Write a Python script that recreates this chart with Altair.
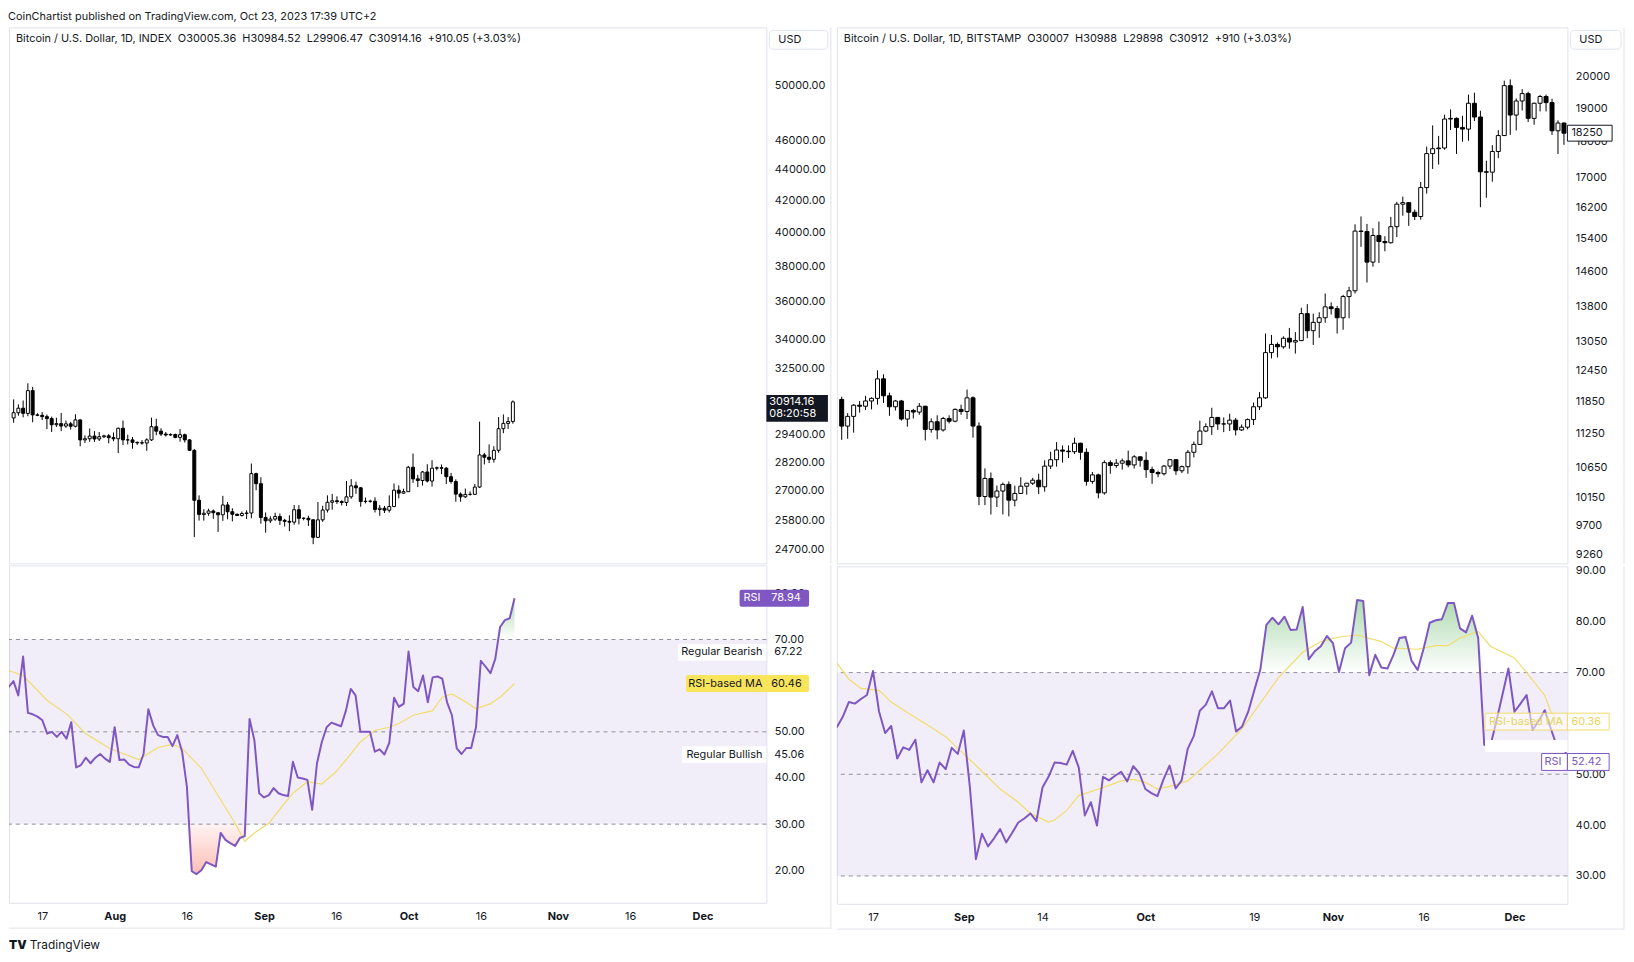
import altair as alt
import pandas as pd
import numpy as np

FONT = "Inter"
INK = "#131722"
GRID = "#e0e3eb"
PURPLE = "#7E57C2"
MA_YELLOW = "#F2DC6A"
TAG_YELLOW = "#F9E55B"
SP = "\u00a0\u00a0"

PUBLISHED = "CoinChartist published on TradingView.com, Oct 23, 2023 17:39 UTC+2"
L_HEADER = SP.join(["Bitcoin / U.S. Dollar, 1D, INDEX", "O30005.36", "H30984.52", "L29906.47", "C30914.16", "+910.05 (+3.03%)"])
R_HEADER = SP.join(["Bitcoin / U.S. Dollar, 1D, BITSTAMP", "O30007", "H30988", "L29898", "C30912", "+910 (+3.03%)"])

# ---------------- Left: BTC INDEX, 2023-07-10 .. 2023-10-23 ----------------
L_FIRST_DAY = "2023-07-10"
l_open = [30170, 30410, 30620, 30380, 31450, 30310, 30290, 30230, 30140, 29860, 29910, 29800, 29900, 29790, 30080, 29180, 29230, 29350, 29220, 29320, 29360, 29280,
          29230, 29700, 29180, 29180, 29070, 29050, 29040, 29180, 29770, 29570, 29440, 29400, 29420, 29290, 29410, 29180, 28720, 26620, 26050, 26100, 26190, 26120, 26040, 26430, 26160, 26060, 26010, 26090, 26110, 27720, 27300,
          25930, 25800, 25870, 25970, 25820, 25780, 25750, 26240, 25900, 25900, 25840, 25160, 25840, 26230, 26540, 26600, 26570, 26530, 26760, 27210, 27130, 26570, 26580, 26580, 26250, 26300, 26220, 26370, 27030, 26910,
          26970, 27990, 27500, 27430, 27790, 27410, 27950, 27970, 27950, 27590, 27390, 26870, 26760, 26860, 26860, 27160, 28520, 28420, 28330, 28720, 29680, 29920, 30005.36]
l_high = [31030, 30800, 30980, 31800, 31630, 30390, 30440, 30330, 30230, 30180, 30400, 30050, 29990, 30340, 30100, 29380, 29690, 29570, 29530, 29410, 29440, 29510,
          29730, 30050, 29410, 29310, 29110, 29170, 29250, 30180, 30130, 29700, 29530, 29470, 29460, 29660, 29460, 29210, 28780, 26820, 26260, 26280, 26250, 26130, 26800, 26550, 26300, 26090, 26170, 26220, 28150, 27760, 27570,
          26130, 25980, 26120, 26090, 25880, 26020, 26430, 26420, 25940, 26000, 25870, 26550, 26400, 26820, 26880, 26780, 26620, 27410, 27490, 27380, 27160, 26730, 26640, 26740, 26430, 26390, 26820, 27310, 27230, 27090,
          28050, 28580, 27670, 27830, 28120, 28290, 28020, 28110, 28000, 27750, 27480, 26940, 27100, 26980, 27290, 30000, 28610, 28980, 28900, 30210, 30330, 30210, 30984.52]
l_low = [29950, 30270, 30200, 30250, 29970, 30250, 30070, 29660, 29530, 29760, 29570, 29720, 29640, 29740, 28900, 29040, 29100, 29090, 29130, 29260, 29030, 29120,
         28600, 28950, 28980, 28790, 28960, 28970, 28700, 29130, 29390, 29350, 29330, 29360, 29250, 29100, 29060, 28710, 25170, 25810, 25810, 26000, 25880, 25370, 25800, 25860, 25780, 25990, 25970, 25870, 25900, 27030, 25690,
         25340, 25720, 25800, 25640, 25580, 25400, 25650, 25660, 25820, 25600, 24900, 25140, 25760, 26130, 26240, 26470, 26410, 26390, 26680, 26880, 26360, 26490, 26520, 26130, 26000, 26110, 26130, 26340, 26700, 26890,
         26960, 27330, 27160, 27220, 27350, 27180, 27860, 27700, 27290, 27300, 26560, 26560, 26710, 26810, 26840, 27120, 28110, 28170, 28190, 28610, 29480, 29670, 29906.47]
l_close = [30410, 30620, 30380, 31450, 30310, 30290, 30230, 30140, 29860, 29910, 29800, 29900, 29790, 30080, 29180, 29230, 29350, 29220, 29320, 29360, 29280, 29230,
           29700, 29180, 29180, 29070, 29050, 29040, 29180, 29770, 29570, 29440, 29400, 29420, 29290, 29410, 29180, 28720, 26620, 26050, 26100, 26190, 26120, 26040, 26430, 26160, 26060, 26010, 26090, 26110, 27720, 27300, 25930,
           25800, 25870, 25970, 25820, 25780, 25750, 26240, 25900, 25900, 25840, 25160, 25840, 26230, 26540, 26600, 26570, 26530, 26760, 27210, 27130, 26570, 26580, 26580, 26250, 26300, 26220, 26370, 27030, 26910, 26970,
           27990, 27500, 27430, 27790, 27410, 27950, 27970, 27950, 27590, 27390, 26870, 26760, 26860, 26860, 27160, 28520, 28420, 28330, 28720, 29680, 29920, 30005, 30914.16]
l_rsi = [59.7, 61.0, 57.9, 66.3, 54.1, 53.8, 53.3, 52.5, 49.6, 50.0, 48.9, 50.0, 48.5, 52.1, 42.3, 42.8, 44.4, 43.2, 44.4, 45.2, 44.2, 43.5,
         51.0, 43.9, 44.0, 42.9, 42.4, 42.3, 45.2, 54.9, 51.4, 49.3, 48.9, 48.9, 46.9, 49.3, 45.7, 38.1, 19.8, 19.2, 20.0, 21.8, 21.3, 20.8, 28.1, 26.6, 25.9, 25.3, 27.0, 27.4, 52.8, 48.2, 36.7,
         35.8, 36.3, 37.8, 36.7, 36.3, 36.1, 43.5, 40.1, 39.9, 39.6, 33.1, 43.2, 47.8, 51.0, 52.0, 51.6, 51.2, 54.6, 59.3, 57.9, 50.0, 50.0, 50.0, 45.7, 46.2, 45.1, 47.6, 57.4, 55.4, 56.1,
         67.4, 59.7, 58.8, 62.2, 56.4, 61.8, 62.0, 61.5, 56.4, 53.6, 46.4, 45.2, 46.5, 46.5, 51.0, 65.4, 64.1, 62.7, 65.8, 72.7, 74.2, 74.6, 78.94]
l_ma_dates = ["2023-07-10", "2023-07-13", "2023-07-18", "2023-07-22", "2023-07-26", "2023-07-31", "2023-08-06", "2023-08-10", "2023-08-13",
              "2023-08-15", "2023-08-19", "2023-08-23", "2023-08-26", "2023-08-28", "2023-08-30", "2023-09-02", "2023-09-05", "2023-09-07",
              "2023-09-10", "2023-09-13", "2023-09-16", "2023-09-18", "2023-09-21", "2023-09-24", "2023-09-27", "2023-09-29", "2023-10-02",
              "2023-10-06", "2023-10-08", "2023-10-10", "2023-10-13", "2023-10-15", "2023-10-18", "2023-10-20", "2023-10-23"]
l_ma = [63.3, 62.2, 56.8, 53.9, 49.6, 46.4, 44.0, 46.6, 47.3, 46.4, 42.1, 35.3, 30.2, 26.3, 28.1, 30.2, 34.2, 36.7,
        39.2, 38.7, 41.4, 43.9, 47.8, 50.3, 51.0, 51.8, 53.6, 54.6, 57.5, 58.2, 56.4, 55.0, 56.1, 57.5, 60.46]
l_price_ticks = [24700, 25800, 27000, 28200, 29400, 30600, 32500, 34000, 36000, 38000, 40000, 42000, 44000, 46000, 50000]
l_rsi_ticks = [20, 30, 40, 50, 60, 70, 80]
l_date_ticks = [(2023, 7, 17), (2023, 8, 1), (2023, 8, 16), (2023, 9, 1), (2023, 9, 16), (2023, 10, 1), (2023, 10, 16), (2023, 11, 1), (2023, 11, 16), (2023, 12, 1)]
l_last = 30914.16
l_countdown = "08:20:58"
l_rsi_last = 78.94
l_ma_last = 60.46
l_bearish = 67.22
l_bullish = 45.06

# ---------------- Right: BTC BITSTAMP, 2020-08-11 .. 2020-12-10 ----------------
R_FIRST_DAY = "2020-08-11"
r_open = ([11890, 11390, 11570, 11780, 11760, 11860, 11910, 12290, 11960, 11750, 11860, 11520, 11680, 11650, 11760, 11330, 11470, 11320, 11530, 11480, 11700]
          + [11660, 11920, 11390, 10170, 10470, 10160, 10260, 10370, 10110, 10220, 10340, 10390, 10440, 10330, 10680, 10790, 10960, 10940, 10930, 11080, 10920, 10420, 10530, 10230, 10740, 10690, 10730, 10770, 10700, 10840]
          + [10780, 10620, 10570, 10550, 10680, 10790, 10600, 10670, 10920, 11060, 11300, 11380, 11550, 11430, 11430, 11500, 11320, 11370, 11510, 11750, 11920, 12820, 12990, 12940, 13120, 13040, 13070, 13650, 13280, 13460, 13560]
          + [13800, 13760, 13560, 14030, 14160, 15590, 15580, 14830, 15480, 15330, 15300, 15700, 16280, 16320, 16070, 15960, 16720, 17660, 17800, 17820, 18670, 18690, 18420, 18370, 19150, 18730, 17150, 17140, 17720, 18180]
          + [19700, 18790, 19220, 19450, 18690, 19150, 19360, 19170, 18320, 18550])
r_high = ([11940, 11630, 11800, 11860, 11960, 11930, 12460, 12380, 12020, 11880, 11880, 11690, 11710, 11820, 11770, 11530, 11590, 11560, 11590, 11720, 11790]
          + [12080, 11950, 11460, 10640, 10570, 10350, 10400, 10420, 10350, 10490, 10390, 10480, 10550, 10780, 10930, 11100, 11040, 11040, 11180, 11090, 10990, 10580, 10550, 10780, 10780, 10800, 10810, 10950, 10870, 10850]
          + [10930, 10670, 10600, 10700, 10800, 10800, 10690, 10960, 11110, 11490, 11440, 11730, 11560, 11550, 11620, 11540, 11420, 11530, 11830, 12030, 13220, 13190, 13030, 13160, 13340, 13250, 13780, 13860, 13650, 13680, 14100]
          + [13900, 13820, 14070, 14250, 15760, 15960, 15770, 15660, 15830, 15460, 15950, 16340, 16480, 16330, 16140, 16870, 17860, 18480, 18170, 18800, 18960, 18720, 18770, 19420, 19480, 18920, 17460, 17900, 18340, 19860]
          + [19900, 19300, 19590, 19510, 19170, 19410, 19420, 19290, 18630, 18570])
r_low = ([11140, 11160, 11270, 11640, 11690, 11700, 11790, 11820, 11580, 11680, 11490, 11380, 11530, 11600, 11130, 11270, 11150, 11290, 11440, 11460, 11600]
         + [11520, 11180, 10030, 10030, 9880, 10000, 9880, 9850, 10010, 10210, 10200, 10360, 10210, 10250, 10630, 10670, 10740, 10820, 10890, 10790, 10350, 10380, 10140, 10200, 10550, 10650, 10620, 10660, 10640, 10670]
         + [10480, 10380, 10490, 10520, 10630, 10530, 10560, 10550, 10830, 11050, 11280, 11230, 11320, 11280, 11300, 11220, 11300, 11330, 11410, 11690, 11900, 12700, 12720, 12900, 12900, 12800, 13060, 13120, 12980, 13130, 13450]
         + [13630, 13220, 13300, 13550, 14100, 15200, 14350, 14720, 14810, 15090, 15280, 15440, 15980, 15720, 15870, 15880, 16560, 17230, 17350, 17770, 18340, 17650, 18000, 18030, 18610, 16200, 16450, 16880, 17530, 18180]
         + [18200, 18330, 18930, 18580, 18500, 18900, 18900, 18200, 17650, 17910])
r_close = ([11390, 11570, 11780, 11760, 11860, 11910, 12290, 11960, 11750, 11860, 11520, 11680, 11650, 11760, 11330, 11470, 11320, 11530, 11480, 11700, 11660]
           + [11920, 11390, 10170, 10470, 10160, 10260, 10370, 10110, 10220, 10340, 10390, 10440, 10330, 10680, 10790, 10960, 10940, 10930, 11080, 10920, 10420, 10530, 10230, 10740, 10690, 10730, 10770, 10700, 10840, 10780]
           + [10620, 10570, 10550, 10680, 10790, 10600, 10670, 10920, 11060, 11300, 11380, 11550, 11430, 11430, 11500, 11320, 11370, 11510, 11750, 11920, 12820, 12990, 12940, 13120, 13040, 13070, 13650, 13280, 13460, 13560, 13800]
           + [13760, 13560, 14030, 14160, 15590, 15580, 14830, 15480, 15330, 15300, 15700, 16280, 16320, 16070, 15960, 16720, 17660, 17800, 17820, 18670, 18690, 18420, 18370, 19150, 18730, 17150, 17140, 17720, 18180, 19700]
           + [18790, 19220, 19450, 18690, 19150, 19360, 19170, 18320, 18550, 18250])
r_rsi = ([59.2, 61.3, 64.2, 63.9, 64.8, 65.6, 70.3, 62.3, 58.1, 59.5, 53.1, 55.3, 54.8, 56.8, 48.4, 50.8, 48.4, 52.3, 51.0, 55.2, 54.0]
         + [58.6, 47.5, 33.3, 38.3, 35.8, 37.4, 39.2, 36.6, 38.5, 40.5, 41.3, 42.3, 40.8, 47.4, 49.5, 52.3, 52.2, 51.9, 54.6, 51.3, 41.9, 44.5, 39.9, 49.5, 48.8, 49.7, 50.5, 48.6, 51.6, 50.2]
         + [47.1, 46.3, 45.7, 49.0, 51.7, 47.2, 48.8, 55.0, 57.5, 62.5, 63.7, 66.3, 63.0, 63.0, 64.5, 58.4, 59.4, 62.3, 66.5, 70.6, 79.4, 80.8, 79.5, 81.0, 78.4, 78.5, 82.9, 72.6, 74.2, 75.2, 77.2]
         + [75.8, 70.1, 74.8, 75.9, 84.3, 84.1, 69.5, 73.5, 71.0, 70.8, 73.5, 76.8, 77.0, 72.3, 70.5, 74.8, 79.8, 80.3, 80.5, 83.7, 83.7, 78.7, 77.9, 81.2, 76.8, 55.8, 55.5, 60.4, 65.6, 70.8]
         + [62.3, 63.9, 65.6, 58.7, 60.5, 62.6, 59.0, 55.5, 55.8, 52.42])
r_ma_dates = ["2020-08-11", "2020-08-13", "2020-08-15", "2020-08-18", "2020-08-20", "2020-08-23", "2020-08-26", "2020-08-29", "2020-09-01",
              "2020-09-04", "2020-09-07", "2020-09-10", "2020-09-12", "2020-09-15", "2020-09-16", "2020-09-18", "2020-09-20", "2020-09-24",
              "2020-09-27", "2020-09-29", "2020-10-01", "2020-10-03", "2020-10-06", "2020-10-08", "2020-10-10", "2020-10-13", "2020-10-17",
              "2020-10-20", "2020-10-23", "2020-10-27", "2020-10-30", "2020-11-02", "2020-11-05", "2020-11-09", "2020-11-11", "2020-11-15",
              "2020-11-18", "2020-11-20", "2020-11-22", "2020-11-25", "2020-11-27", "2020-12-01", "2020-12-03", "2020-12-06", "2020-12-07",
              "2020-12-08", "2020-12-09"]
r_ma = [71.9, 68.7, 66.9, 66.5, 64.2, 61.9, 59.7, 57.4, 54.0, 50.6, 47.1, 44.5, 42.3, 40.6, 41.0, 42.9, 45.8, 47.4,
        48.7, 49.0, 48.4, 47.1, 47.9, 48.7, 50.8, 54.0, 59.0, 64.0, 69.0, 74.0, 76.1, 77.0, 77.4, 76.1, 74.8, 74.6,
        75.3, 75.3, 76.8, 78.1, 75.2, 72.9, 70.0, 65.5, 62.3, 61.0, 60.36]
r_price_ticks = [9260, 9700, 10150, 10650, 11250, 11850, 12450, 13050, 13800, 14600, 15400, 16200, 17000, 18000, 19000, 20000]
r_rsi_ticks = [30, 40, 50, 60, 70, 80, 90]
r_date_ticks = [(2020, 8, 17), (2020, 9, 1), (2020, 9, 14), (2020, 10, 1), (2020, 10, 19), (2020, 11, 1), (2020, 11, 16), (2020, 12, 1)]
r_last = 18250
r_rsi_last = 52.42
r_ma_last = 60.36

# ---------------- layout constants ----------------
W_L, W_R = 763, 736
EXT_L, EXT_R = 66, 58
H_P, H_RSI = 540, 340
one = pd.DataFrame({"k": [0]})


def frame(first_day, o, h, l, c, rsi):
    df = pd.DataFrame({"date": pd.date_range(first_day, periods=len(c), freq="D"),
                       "open": o, "high": h, "low": l, "close": c, "rsi": rsi})
    df["ob"] = np.maximum(df["rsi"], 70.0)
    df["ob0"] = 70.0
    df["os"] = np.minimum(df["rsi"], 30.0)
    df["os0"] = 30.0
    return df


left = frame(L_FIRST_DAY, l_open, l_high, l_low, l_close, l_rsi)
right = frame(R_FIRST_DAY, r_open, r_high, r_low, r_close, r_rsi)
left_ma = pd.DataFrame({"date": pd.to_datetime(l_ma_dates), "ma": l_ma})
right_ma = pd.DataFrame({"date": pd.to_datetime(r_ma_dates), "ma": r_ma})

L_XDOM = [alt.DateTime(year=2023, month=7, date=10, hours=1, minutes=40),
          alt.DateTime(year=2023, month=12, date=14, hours=6, minutes=30)]
R_XDOM = [alt.DateTime(year=2020, month=8, date=11, hours=0, minutes=30),
          alt.DateTime(year=2020, month=12, date=9, hours=18, minutes=0)]
L_PDOM = [24184, 54635]
R_PDOM = [9132, 21638]
L_RDOM = [12.95, 86.06]
R_RDOM = [24.5, 90.9]

GREEN_FILL = alt.Gradient(gradient="linear",
                          stops=[alt.GradientStop(color="rgba(76,175,80,0.45)", offset=0),
                                 alt.GradientStop(color="rgba(76,175,80,0.0)", offset=1)],
                          x1=0, x2=0, y1=0, y2=1)
RED_FILL = alt.Gradient(gradient="linear",
                        stops=[alt.GradientStop(color="rgba(247,110,90,0.08)", offset=0),
                               alt.GradientStop(color="rgba(247,110,90,0.45)", offset=1)],
                        x1=0, x2=0, y1=0, y2=1)


def text_layer(txt, x, y, align="left", color=INK, size=11, weight="normal", yoff=0):
    return alt.Chart(one).mark_text(text=txt, align=align, baseline="middle", font=FONT, fontSize=size,
                                    fontWeight=weight, color=color, yOffset=yoff).encode(x=alt.value(x), y=y)


def box_layer(x1, x2, y, y2, up, down, fill, stroke=None, radius=0):
    kw = dict(fill=fill, yOffset=-up, y2Offset=down, cornerRadius=radius)
    if stroke is not None:
        kw["stroke"] = stroke
        kw["strokeWidth"] = 1
    return alt.Chart(one).mark_rect(**kw).encode(x=alt.value(x1), x2=alt.value(x2), y=y, y2=y2)


def price_panel(df, width, ext, xdom, ydom, yvals, yfmt, header, body, last, countdown, dark_tag):
    xenc = alt.X("date:T", scale=alt.Scale(domain=xdom), axis=None)
    ysc = alt.Scale(type="log", domain=ydom, nice=False)
    yax = alt.Axis(orient="right", values=yvals, format=yfmt, labelPadding=8, minExtent=ext, maxExtent=ext,
                   domain=False, ticks=False, grid=False, labelFont=FONT, labelFontSize=11, labelColor=INK,
                   labelOverlap=False, labelFlush=False)

    def Y(f):
        return alt.Y(f, type="quantitative", scale=ysc, axis=yax, title=None)

    def YD(v):
        return alt.YDatum(v, type="quantitative", scale=ysc, axis=yax, title=None)

    wick = alt.Chart(df).mark_rule(color="#000000", strokeWidth=1, clip=True).encode(
        x=xenc, y=Y("low"), y2=alt.Y2("high"))
    bodies = alt.Chart(df).mark_bar(size=body, stroke="#000000", strokeWidth=1, clip=True).encode(
        x=xenc, y=Y("open"), y2=alt.Y2("close"),
        fill=alt.condition("datum.close >= datum.open", alt.value("#ffffff"), alt.value("#000000")))
    layers = [wick, bodies,
              text_layer(header, 7, alt.value(12)),
              box_layer(width + 3, width + ext - 4, alt.value(3), alt.value(22), 0, 0, "#ffffff", GRID, 4),
              text_layer("USD", width + 12, alt.value(12.5)),
              alt.Chart(one).mark_rule(color=GRID).encode(x=alt.value(width + ext - 1), y=alt.value(0), y2=alt.value(H_P))]
    if dark_tag:
        layers += [box_layer(width, width + 62, YD(last), alt.Y2Datum(last), 7, 20, "#131722"),
                   text_layer(f"{last:.2f}", width + 3, YD(last), color="#ffffff"),
                   text_layer(countdown, width + 3, YD(last), color="#ffffff", yoff=12.5)]
    else:
        layers += [box_layer(width, width + 45, YD(last), alt.Y2Datum(last), 8, 8, "#ffffff", INK),
                   text_layer(f"{last:d}", width + 4, YD(last))]
    return alt.layer(*layers).properties(width=width, height=H_P)


def rsi_panel(df, ma, width, ext, xdom, xticks, rdom, rvals, tag_fn, logo=False):
    xax = alt.Axis(values=[alt.DateTime(year=a, month=b, date=c) for a, b, c in xticks],
                   labelExpr="date(datum.value) == 1 ? timeFormat(datum.value, '%b') : '' + date(datum.value)",
                   labelFontWeight={"condition": {"test": "date(datum.value) == 1", "value": "bold"}, "value": "normal"},
                   labelPadding=8, minExtent=26, maxExtent=26, labelFlush=False, labelOverlap=False, labelAngle=0,
                   domain=False, ticks=False, grid=False, title=None, labelFont=FONT, labelFontSize=11, labelColor=INK)
    xenc = alt.X("date:T", scale=alt.Scale(domain=xdom), axis=xax)
    ysc = alt.Scale(domain=rdom, nice=False, zero=False)
    yax = alt.Axis(orient="right", values=rvals, format=".2f", labelPadding=8, minExtent=ext, maxExtent=ext,
                   domain=False, ticks=False, grid=False, labelFont=FONT, labelFontSize=11, labelColor=INK,
                   labelOverlap=False, labelFlush=False)

    def Y(f):
        return alt.Y(f, type="quantitative", scale=ysc, axis=yax, title=None)

    def YD(v):
        return alt.YDatum(v, type="quantitative", scale=ysc, axis=yax, title=None)

    band = alt.Chart(one).mark_rect(color=PURPLE, opacity=0.1).encode(
        x=alt.value(0), x2=alt.value(width), y=YD(70), y2=alt.Y2Datum(30))
    levels = alt.Chart(pd.DataFrame({"lvl": [70, 50, 30]})).mark_rule(
        color="#8E919A", strokeDash=[4, 4], strokeWidth=1).encode(y=Y("lvl"))
    green = alt.Chart(df).mark_area(clip=True, color=GREEN_FILL).encode(x=xenc, y=Y("ob"), y2=alt.Y2("ob0"))
    red = alt.Chart(df).mark_area(clip=True, color=RED_FILL).encode(x=xenc, y=Y("os"), y2=alt.Y2("os0"))
    ma_line = alt.Chart(ma).mark_line(clip=True, color=MA_YELLOW, strokeWidth=1.2).encode(x=xenc, y=Y("ma"))
    rsi_line = alt.Chart(df).mark_line(clip=True, color=PURPLE, strokeWidth=2, strokeJoin="round").encode(
        x=xenc, y=Y("rsi"))
    borders = [alt.Chart(one).mark_rule(color=GRID).encode(x=alt.value(width + ext - 1), y=alt.value(0), y2=alt.value(H_RSI + 26)),
               alt.Chart(one).mark_rule(color=GRID).encode(x=alt.value(0), x2=alt.value(width + ext - 1), y=alt.value(H_RSI + 25.5))]
    layers = [band, levels, green, red, ma_line, rsi_line] + tag_fn(YD, width) + borders
    if logo:
        layers += [text_layer("TV", 0, alt.value(H_RSI + 42), size=12, weight=900),
                   text_layer("TradingView", 21, alt.value(H_RSI + 42), size=12)]
    return alt.layer(*layers).properties(width=width, height=H_RSI)


def left_tags(YD, width):
    return [
        box_layer(width - 89, width, YD(l_bearish), alt.Y2Datum(l_bearish), 8.5, 8.5, "#ffffff"),
        text_layer("Regular Bearish", width - 4, YD(l_bearish), align="right"),
        text_layer(f"{l_bearish:.2f}", width + 8, YD(l_bearish)),
        box_layer(width - 85, width, YD(l_bullish), alt.Y2Datum(l_bullish), 8.5, 8.5, "#ffffff"),
        text_layer("Regular Bullish", width - 4, YD(l_bullish), align="right"),
        text_layer(f"{l_bullish:.2f}", width + 8, YD(l_bullish)),
        box_layer(width - 81, width + 43, YD(l_ma_last), alt.Y2Datum(l_ma_last), 8.5, 8.5, TAG_YELLOW, radius=2),
        text_layer("RSI-based MA", width - 4, YD(l_ma_last), align="right"),
        text_layer(f"{l_ma_last:.2f}", width + 5, YD(l_ma_last)),
        box_layer(width - 27, width + 43, YD(l_rsi_last), alt.Y2Datum(l_rsi_last), 8.5, 8.5, PURPLE, radius=2),
        alt.Chart(one).mark_rule(color="#9C82D2").encode(x=alt.value(width + 1), y=YD(l_rsi_last), y2=alt.Y2Datum(l_rsi_last)),
        text_layer("RSI", width - 23, YD(l_rsi_last), color="#ffffff"),
        text_layer(f"{l_rsi_last:.2f}", width + 5, YD(l_rsi_last), color="#ffffff"),
    ]


def right_tags(YD, width):
    return [
        box_layer(width - 83, width, YD(55.55), alt.Y2Datum(55.55), 6, 6, "#ffffff"),
        box_layer(width - 83, width, YD(r_ma_last), alt.Y2Datum(r_ma_last), 8.5, 8.5, "rgba(255,255,255,0.55)", MA_YELLOW),
        box_layer(width, width + 42, YD(r_ma_last), alt.Y2Datum(r_ma_last), 8.5, 8.5, "#ffffff", MA_YELLOW),
        text_layer("RSI-based MA", width - 79, YD(r_ma_last), color="#E9D35C"),
        text_layer(f"{r_ma_last:.2f}", width + 4, YD(r_ma_last), color="#E9D35C"),
        box_layer(width - 26, width, YD(r_rsi_last), alt.Y2Datum(r_rsi_last), 8.5, 8.5, "#ffffff", PURPLE),
        box_layer(width, width + 42, YD(r_rsi_last), alt.Y2Datum(r_rsi_last), 8.5, 8.5, "#ffffff", PURPLE),
        text_layer("RSI", width - 23, YD(r_rsi_last), color=PURPLE),
        text_layer(f"{r_rsi_last:.2f}", width + 4, YD(r_rsi_last), color=PURPLE),
    ]


left_price = price_panel(left, W_L, EXT_L, L_XDOM, L_PDOM, l_price_ticks, ".2f", L_HEADER, 3, l_last, l_countdown, True)
right_price = price_panel(right, W_R, EXT_R, R_XDOM, R_PDOM, r_price_ticks, "d", R_HEADER, 4, r_last, "", False)
left_rsi = rsi_panel(left, left_ma, W_L, EXT_L, L_XDOM, l_date_ticks, L_RDOM, l_rsi_ticks, left_tags, logo=True)
right_rsi = rsi_panel(right, right_ma, W_R, EXT_R, R_XDOM, r_date_ticks, R_RDOM, r_rsi_ticks, right_tags)

left_col = alt.vconcat(left_price, left_rsi, spacing=0).resolve_scale(x="independent", y="independent")
right_col = alt.vconcat(right_price, right_rsi, spacing=0).resolve_scale(x="independent", y="independent")

chart = (
    alt.hconcat(left_col, right_col, spacing=3)
    .resolve_scale(x="independent", y="independent")
    .properties(
        title=alt.TitleParams(PUBLISHED, anchor="start", fontSize=11, font=FONT, fontWeight="normal",
                              color=INK, offset=4),
        padding=0,
        background="#ffffff",
    )
    .configure_view(stroke=GRID, strokeWidth=1)
)

chart.save("out.html", embed_options={"renderer": "svg", "actions": False})
